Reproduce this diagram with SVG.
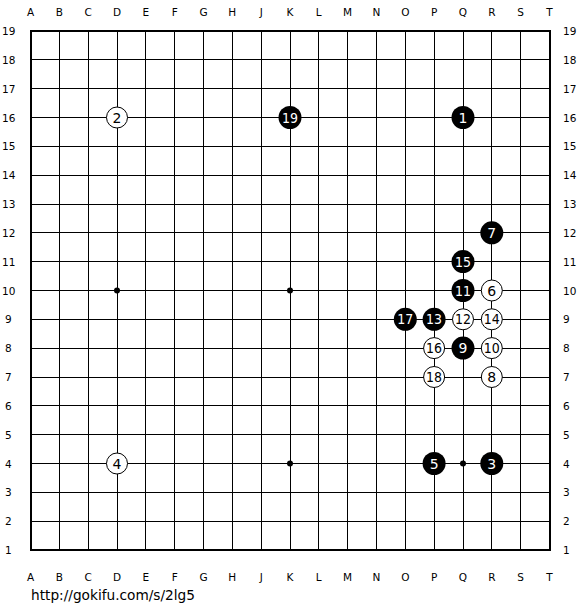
<svg xmlns="http://www.w3.org/2000/svg" width="580" height="610" viewBox="0 0 580 610">
<style>
.lbl{font-family:"DejaVu Sans",sans-serif;font-size:10.5px;fill:#000;text-anchor:middle}
.num{font-family:"DejaVu Sans",sans-serif;font-size:10.5px;fill:#000}
.g{stroke:#000;stroke-width:1;shape-rendering:crispEdges}
.b{fill:#000}
.w{fill:#fff;stroke:#000;stroke-width:1}
.tb{font-family:"DejaVu Sans",sans-serif;font-size:14px;fill:#fff;text-anchor:middle}
.tw{font-family:"DejaVu Sans",sans-serif;font-size:14px;fill:#000;text-anchor:middle}
</style>
<rect width="580" height="610" fill="#fff"/>
<g id="grid" class="g">
<path d="M59.3 31V550M88.2 31V550M117 31V550M145.8 31V550M174.7 31V550M203.5 31V550M232.3 31V550M261.2 31V550M290 31V550M318.8 31V550M347.6 31V550M376.5 31V550M405.3 31V550M434.1 31V550M463 31V550M491.8 31V550M520.6 31V550"/>
<path d="M30.5 59.8H549.5M30.5 88.7H549.5M30.5 117.5H549.5M30.5 146.3H549.5M30.5 175.2H549.5M30.5 204H549.5M30.5 232.8H549.5M30.5 261.6H549.5M30.5 290.5H549.5M30.5 319.3H549.5M30.5 348.1H549.5M30.5 377H549.5M30.5 405.8H549.5M30.5 434.6H549.5M30.5 463.5H549.5M30.5 492.3H549.5M30.5 521.1H549.5"/>
<rect x="30.5" y="31" width="519" height="519" fill="none" stroke-width="2"/>
</g>
<g id="stars" class="b">
<circle cx="117" cy="290.5" r="3"/><circle cx="290" cy="290.5" r="3"/><circle cx="290" cy="463.5" r="3"/><circle cx="463" cy="463.5" r="3"/>
</g>
<g id="top-labels" class="lbl">
<text x="30.5" y="16">A</text><text x="59.3" y="16">B</text><text x="88.2" y="16">C</text><text x="117" y="16">D</text><text x="145.8" y="16">E</text><text x="174.7" y="16">F</text><text x="203.5" y="16">G</text><text x="232.3" y="16">H</text><text x="261.2" y="16">J</text><text x="290" y="16">K</text><text x="318.8" y="16">L</text><text x="347.6" y="16">M</text><text x="376.5" y="16">N</text><text x="405.3" y="16">O</text><text x="434.1" y="16">P</text><text x="463" y="16">Q</text><text x="491.8" y="16">R</text><text x="520.6" y="16">S</text><text x="549.5" y="16">T</text>
</g>
<g id="bottom-labels" class="lbl">
<text x="30.5" y="581">A</text><text x="59.3" y="581">B</text><text x="88.2" y="581">C</text><text x="117" y="581">D</text><text x="145.8" y="581">E</text><text x="174.7" y="581">F</text><text x="203.5" y="581">G</text><text x="232.3" y="581">H</text><text x="261.2" y="581">J</text><text x="290" y="581">K</text><text x="318.8" y="581">L</text><text x="347.6" y="581">M</text><text x="376.5" y="581">N</text><text x="405.3" y="581">O</text><text x="434.1" y="581">P</text><text x="463" y="581">Q</text><text x="491.8" y="581">R</text><text x="520.6" y="581">S</text><text x="549.5" y="581">T</text>
</g>
<g id="left-numbers" class="num">
<text x="2" y="35">19</text><text x="2" y="63.8">18</text><text x="2" y="92.7">17</text><text x="2" y="121.5">16</text><text x="2" y="150.3">15</text><text x="2" y="179.2">14</text><text x="2" y="208">13</text><text x="2" y="236.8">12</text><text x="2" y="265.6">11</text><text x="2" y="294.5">10</text><text x="5" y="323.3">9</text><text x="5" y="352.1">8</text><text x="5" y="381">7</text><text x="5" y="409.8">6</text><text x="5" y="438.6">5</text><text x="5" y="467.5">4</text><text x="5" y="496.3">3</text><text x="5" y="525.1">2</text><text x="5" y="554">1</text>
</g>
<g id="right-numbers" class="num">
<text x="563" y="35">19</text><text x="563" y="63.8">18</text><text x="563" y="92.7">17</text><text x="563" y="121.5">16</text><text x="563" y="150.3">15</text><text x="563" y="179.2">14</text><text x="563" y="208">13</text><text x="563" y="236.8">12</text><text x="563" y="265.6">11</text><text x="563" y="294.5">10</text><text x="563" y="323.3">9</text><text x="563" y="352.1">8</text><text x="563" y="381">7</text><text x="563" y="409.8">6</text><text x="563" y="438.6">5</text><text x="563" y="467.5">4</text><text x="563" y="496.3">3</text><text x="563" y="525.1">2</text><text x="563" y="554">1</text>
</g>
<g id="s1"><circle class="b" cx="463" cy="117.5" r="11.5"/><text class="tb" x="463" y="122.5">1</text></g>
<g id="s2"><circle class="w" cx="117" cy="117.5" r="10.5"/><text class="tw" x="117" y="122.5">2</text></g>
<g id="s3"><circle class="b" cx="491.8" cy="463.5" r="11.5"/><text class="tb" x="491.8" y="468.5">3</text></g>
<g id="s4"><circle class="w" cx="117" cy="463.5" r="10.5"/><text class="tw" x="117" y="468.5">4</text></g>
<g id="s5"><circle class="b" cx="434.1" cy="463.5" r="11.5"/><text class="tb" x="434.1" y="468.5">5</text></g>
<g id="s6"><circle class="w" cx="491.8" cy="290.5" r="10.5"/><text class="tw" x="491.8" y="295.5">6</text></g>
<g id="s7"><circle class="b" cx="491.8" cy="232.8" r="11.5"/><text class="tb" x="491.8" y="237.8">7</text></g>
<g id="s8"><circle class="w" cx="491.8" cy="377" r="10.5"/><text class="tw" x="491.8" y="382">8</text></g>
<g id="s9"><circle class="b" cx="463" cy="348.1" r="11.5"/><text class="tb" x="463" y="353.1">9</text></g>
<g id="s10"><circle class="w" cx="491.8" cy="348.1" r="10.5"/><text class="tw" x="491.8" y="353.1" textLength="16" lengthAdjust="spacingAndGlyphs">10</text></g>
<g id="s11"><circle class="b" cx="463" cy="290.5" r="11.5"/><text class="tb" x="463" y="295.5" textLength="16" lengthAdjust="spacingAndGlyphs">11</text></g>
<g id="s12"><circle class="w" cx="463" cy="319.3" r="10.5"/><text class="tw" x="463" y="324.3" textLength="16" lengthAdjust="spacingAndGlyphs">12</text></g>
<g id="s13"><circle class="b" cx="434.1" cy="319.3" r="11.5"/><text class="tb" x="434.1" y="324.3" textLength="16" lengthAdjust="spacingAndGlyphs">13</text></g>
<g id="s14"><circle class="w" cx="491.8" cy="319.3" r="10.5"/><text class="tw" x="491.8" y="324.3" textLength="16" lengthAdjust="spacingAndGlyphs">14</text></g>
<g id="s15"><circle class="b" cx="463" cy="261.6" r="11.5"/><text class="tb" x="463" y="266.6" textLength="16" lengthAdjust="spacingAndGlyphs">15</text></g>
<g id="s16"><circle class="w" cx="434.1" cy="348.1" r="10.5"/><text class="tw" x="434.1" y="353.1" textLength="16" lengthAdjust="spacingAndGlyphs">16</text></g>
<g id="s17"><circle class="b" cx="405.3" cy="319.3" r="11.5"/><text class="tb" x="405.3" y="324.3" textLength="16" lengthAdjust="spacingAndGlyphs">17</text></g>
<g id="s18"><circle class="w" cx="434.1" cy="377" r="10.5"/><text class="tw" x="434.1" y="382" textLength="16" lengthAdjust="spacingAndGlyphs">18</text></g>
<g id="s19"><circle class="b" cx="290" cy="117.5" r="11.5"/><text class="tb" x="290" y="122.5" textLength="16" lengthAdjust="spacingAndGlyphs">19</text></g>
<text x="31" y="600" font-family="DejaVu Sans, sans-serif" font-size="14.5" fill="#000" textLength="164" lengthAdjust="spacingAndGlyphs">http://gokifu.com/s/2lg5</text>
</svg>
